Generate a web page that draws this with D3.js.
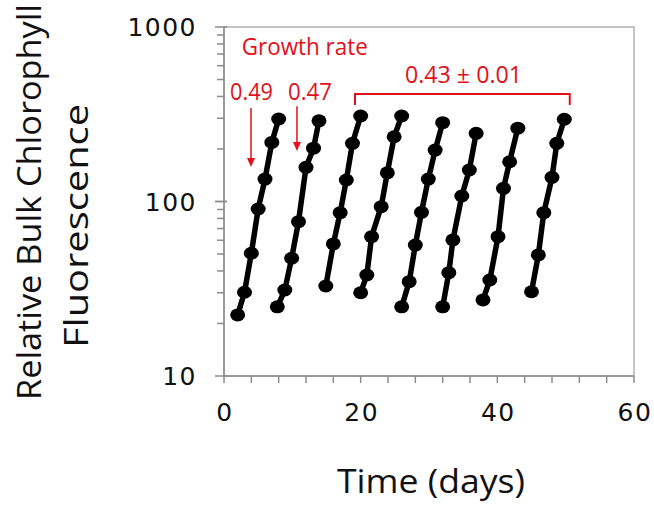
<!DOCTYPE html>
<html><head><meta charset="utf-8">
<script src="https://cdn.jsdelivr.net/npm/d3@7"></script>
<style>html,body{margin:0;padding:0;background:#fff;}svg{display:block;}</style>
</head><body>
<svg id="c" width="654" height="506"></svg>
<script>
// ---- data ----
const s1Days = [2, 3, 4, 5, 6, 7, 8];
const s1Vals = [22.4, 30.2, 50.5, 90.6, 134.5, 218, 297];
const s2Days = [7.8, 8.9, 9.9, 10.9, 12, 13.1, 13.9];
const s2Vals = [24.9, 31.1, 47.3, 76.6, 157, 202, 290];
const s3Days = [14.9, 16, 17, 17.9, 18.8, 20];
const s3Vals = [32.8, 57.1, 86.3, 132.8, 215.5, 309];
const s4Days = [20, 20.9, 21.6, 23, 23.9, 24.9, 26];
const s4Vals = [30, 37.9, 62.9, 93.4, 146, 235, 309];
const s5Days = [26, 27.1, 28, 28.9, 29.9, 30.9, 32];
const s5Vals = [24.9, 34.7, 56.3, 86.7, 134.5, 197, 283];
const s6Days = [32, 32.9, 33.5, 34.8, 35.9, 36.9];
const s6Vals = [24.9, 39.1, 60.2, 107.5, 151.5, 246];
const s7Days = [37.9, 38.9, 40.1, 40.9, 41.8, 43];
const s7Vals = [27.3, 35.5, 62.9, 119, 169, 263];
const s8Days = [45, 46, 46.8, 48, 48.7, 49.8];
const s8Vals = [30.4, 49.4, 86.3, 137.6, 215.5, 296];

const xTicks = [0, 20, 40, 60];
const yTicks = [10, 100, 1000];
const xLabel = "Time (days)";
const yLabel1 = "Relative Bulk Chlorophyll";
const yLabel2 = "Fluorescence";
const growthTitle = "Growth rate";
const rateLabels = ["0.49", "0.47", "0.43 ± 0.01"];

// ---- layout ----
const svg = d3.select("#c");
const L = 224, R = 634, T = 27, B = 376;
const x = d3.scaleLinear().domain([0, 60]).range([L, R]);
const y = d3.scaleLog().domain([10, 1000]).range([B, T]);
const gray = "#8c8c8c";
const red = "#e2101a";
const tickFont = "DejaVu Sans, Verdana, sans-serif";

// frame
svg.append("rect").attr("x", L).attr("y", T).attr("width", R - L).attr("height", B - T)
  .attr("fill", "none").attr("stroke", "#b0b0b0").attr("stroke-width", 1.5);

// x axis
const xMinor = d3.range(0, 61, 4);
const gx = svg.append("g").attr("transform", `translate(0,${B})`);
gx.append("line").attr("x1", L).attr("x2", R).attr("stroke", gray).attr("stroke-width", 1.5);
gx.selectAll("line.t").data(xMinor).join("line").attr("class", "t")
  .attr("x1", d => x(d)).attr("x2", d => x(d)).attr("y1", 0).attr("y2", 7)
  .attr("stroke", gray).attr("stroke-width", 1.5);
gx.selectAll("text").data(xTicks).join("text")
  .attr("x", d => x(d) + 1).attr("y", 45).attr("text-anchor", "middle")
  .attr("font-family", tickFont).attr("font-size", 25)
  .attr("letter-spacing", 1.5).attr("fill", "#111").text(d => d);

// y axis
const yMinor = [];
[10, 100].forEach(b => { for (let k = 1; k <= 10; k++) yMinor.push(b * k); });
const gy = svg.append("g").attr("transform", `translate(${L},0)`);
gy.append("line").attr("y1", T).attr("y2", B).attr("stroke", gray).attr("stroke-width", 1.5);
gy.selectAll("line.t").data(yMinor).join("line").attr("class", "t")
  .attr("y1", d => y(d)).attr("y2", d => y(d))
  .attr("x1", d => yTicks.includes(d) ? -9 : -7).attr("x2", d => yTicks.includes(d) ? 3 : 0)
  .attr("stroke", gray).attr("stroke-width", 1.5);
gy.selectAll("text").data(yTicks).join("text")
  .attr("x", -27).attr("y", d => y(d) + 9).attr("text-anchor", "end")
  .attr("font-family", tickFont).attr("font-size", 25)
  .attr("letter-spacing", 1.5).attr("fill", "#111").text(d => d);

// axis titles
const titleFont = "Open Sans, Noto Sans, sans-serif";
svg.append("text").attr("x", (L + R) / 2 + 2).attr("y", 493).attr("text-anchor", "middle")
  .attr("font-family", titleFont).attr("font-size", 33).attr("fill", "#111")
  .attr("textLength", 188).attr("lengthAdjust", "spacingAndGlyphs").text(xLabel);
svg.append("text").attr("transform", "translate(41,202) rotate(-90)").attr("text-anchor", "middle")
  .attr("font-family", titleFont).attr("font-size", 33).attr("fill", "#111")
  .attr("textLength", 396).attr("lengthAdjust", "spacingAndGlyphs").text(yLabel1);
svg.append("text").attr("transform", "translate(88,226) rotate(-90)").attr("text-anchor", "middle")
  .attr("font-family", titleFont).attr("font-size", 33).attr("fill", "#111")
  .attr("textLength", 244).attr("lengthAdjust", "spacingAndGlyphs").text(yLabel2);

// series
const series = [
  [s1Days, s1Vals], [s2Days, s2Vals], [s3Days, s3Vals], [s4Days, s4Vals],
  [s5Days, s5Vals], [s6Days, s6Vals], [s7Days, s7Vals], [s8Days, s8Vals]
].map(([ds, vs]) => ds.map((d, i) => ({ d, v: vs[i] })));
const line = d3.line().x(p => x(p.d)).y(p => y(p.v));
const gs = svg.append("g");
series.forEach(pts => {
  gs.append("path").attr("d", line(pts)).attr("fill", "none")
    .attr("stroke", "#000").attr("stroke-width", 5.5).attr("stroke-linejoin", "round");
  gs.selectAll(null).data(pts).join("ellipse")
    .attr("cx", p => x(p.d)).attr("cy", p => y(p.v)).attr("rx", 7.5).attr("ry", 6.5)
    .attr("fill", "#000");
});

// annotations
const af = "Open Sans, Noto Sans, sans-serif";
svg.append("text").attr("x", x(2.6)).attr("y", y(691)).attr("font-family", af)
  .attr("font-size", 23.5).attr("fill", red).attr("textLength", 126)
  .attr("lengthAdjust", "spacingAndGlyphs").text(growthTitle);
svg.append("text").attr("x", x(0.88)).attr("y", y(381.6)).attr("font-family", af)
  .attr("font-size", 23.5).attr("fill", red).attr("textLength", 43)
  .attr("lengthAdjust", "spacingAndGlyphs").text(rateLabels[0]);
svg.append("text").attr("x", x(9.37)).attr("y", y(381.6)).attr("font-family", af)
  .attr("font-size", 23.5).attr("fill", red).attr("textLength", 44)
  .attr("lengthAdjust", "spacingAndGlyphs").text(rateLabels[1]);
svg.append("text").attr("x", x(35.05)).attr("y", y(477)).attr("text-anchor", "middle").attr("font-family", af)
  .attr("font-size", 23.5).attr("fill", red).attr("textLength", 117)
  .attr("lengthAdjust", "spacingAndGlyphs").text(rateLabels[2]);

// bracket
svg.append("path")
  .attr("d", `M${x(19.17)},${y(357)}V${y(413)}H${x(50.6)}V${y(357)}`)
  .attr("fill", "none").attr("stroke", red).attr("stroke-width", 2);

// arrows
const arrows = [[3.95, 343.6, 157.8], [10.68, 352, 194.5]];
arrows.forEach(([d, v0, v1]) => {
  const xx = x(d), y0 = y(v0), y1 = y(v1);
  svg.append("line").attr("x1", xx).attr("x2", xx).attr("y1", y0).attr("y2", y1 - 8)
    .attr("stroke", red).attr("stroke-width", 1.5);
  svg.append("path").attr("d", `M${xx - 4},${y1 - 9}L${xx + 4},${y1 - 9}L${xx},${y1}Z`).attr("fill", red);
});
</script>
</body></html>
